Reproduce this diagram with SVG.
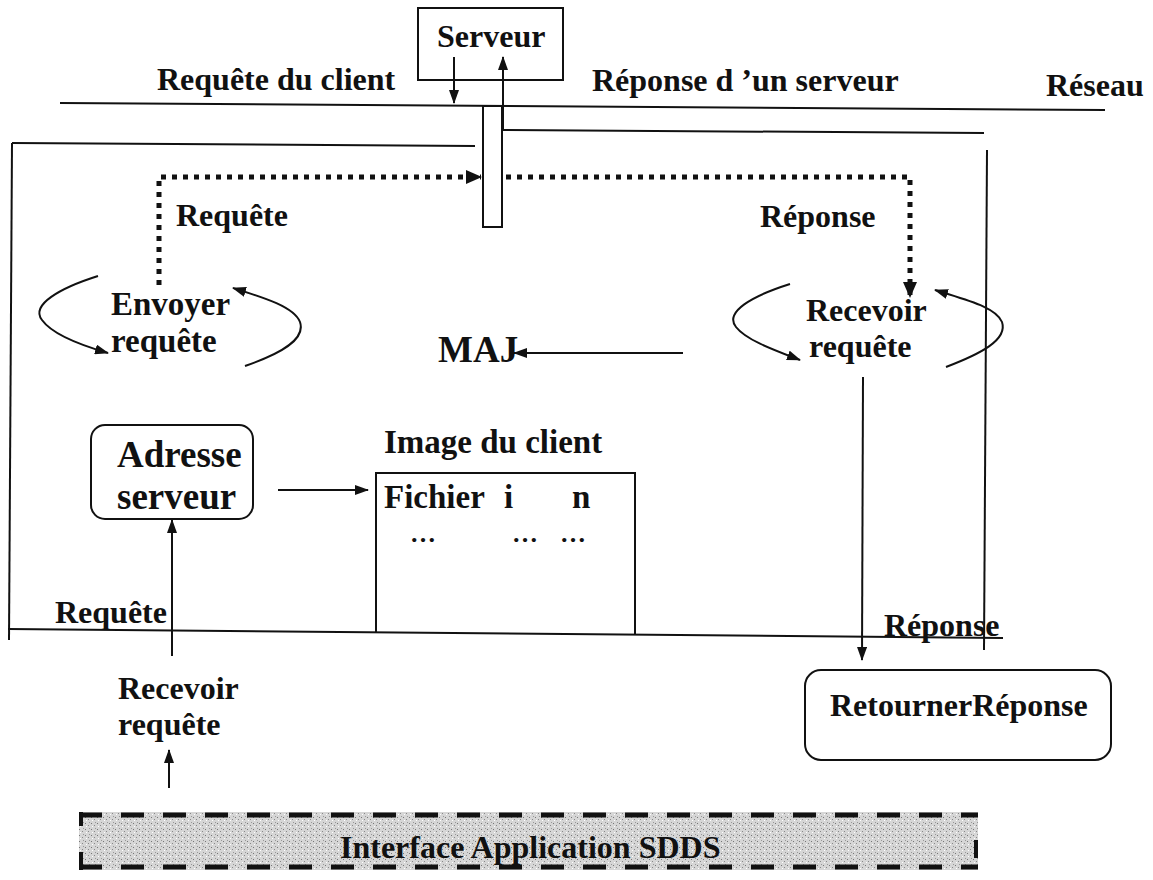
<svg xmlns="http://www.w3.org/2000/svg" width="1153" height="880" viewBox="0 0 1153 880">
<style>
text{font-family:"Liberation Serif","Times New Roman",serif;font-weight:bold;fill:#111;font-size:32px}
.ln{stroke:#111;stroke-width:2;fill:none}
.dot{stroke:#111;stroke-width:5;fill:none;stroke-dasharray:5 6}
.box{stroke:#111;stroke-width:2;fill:#fff}
.big{font-size:37px}
.img{font-size:33px}
.ell{font-size:26px}
.env{font-size:33px}
</style>
<defs>
<marker id="ah" viewBox="0 0 14 10" refX="13" refY="5" markerWidth="14" markerHeight="10" markerUnits="userSpaceOnUse" orient="auto"><path d="M0,0 L14,5 L0,10 Z" fill="#111"/></marker>
<marker id="ahb" viewBox="0 0 16 14" refX="15" refY="7" markerWidth="16" markerHeight="14" markerUnits="userSpaceOnUse" orient="auto"><path d="M0,0 L16,7 L0,14 Z" fill="#111"/></marker>
<pattern id="stip" width="6" height="6" patternUnits="userSpaceOnUse"><rect width="6" height="6" fill="#d6d6d6"/><rect x="1" y="1" width="1" height="1" fill="#777"/><rect x="4" y="3" width="1" height="1" fill="#888"/><rect x="2" y="4" width="1" height="1" fill="#fff"/><rect x="5" y="0" width="1" height="1" fill="#999"/></pattern>
</defs>

<g id="frame">
<line class="ln" x1="60" y1="103" x2="1105" y2="110"/>
<line class="ln" x1="12" y1="143" x2="475" y2="146"/>
<line class="ln" x1="12" y1="143" x2="9" y2="640"/>
<line class="ln" x1="8" y1="629" x2="1003" y2="638"/>
<line class="ln" x1="503" y1="130" x2="984" y2="133"/>
<line class="ln" x1="987" y1="150" x2="984" y2="650"/>
</g>

<g id="labels">
<text x="157" y="90">Requête du client</text>
<text x="592" y="91">Réponse d ’un serveur</text>
<text x="1046" y="96">Réseau</text>
<text x="176" y="226">Requête</text>
<text x="760" y="227">Réponse</text>
<text x="55" y="623">Requête</text>
<text x="884" y="636">Réponse</text>
<text x="118" y="699">Recevoir</text>
<text x="118" y="735">requête</text>
</g>

<g id="serveur">
<rect class="box" x="418" y="8" width="145" height="72"/>
<text x="437" y="47">Serveur</text>
</g>

<g id="passerelle">
<rect class="box" x="483" y="106" width="19" height="121"/>
</g>

<g id="envoyer">
<text class="env" x="111" y="315">Envoyer</text>
<text class="env" x="111" y="352">requête</text>
</g>

<g id="recevoir">
<text x="806" y="321">Recevoir</text>
<text x="809" y="357">requête</text>
</g>

<g id="maj">
<text x="438" y="362" style="font-size:37px">MAJ</text>
</g>

<g id="adresse">
<rect class="box" x="91" y="425" width="162" height="94" rx="14"/>
<text class="big" x="117" y="467">Adresse</text>
<text class="big" x="117" y="509">serveur</text>
</g>

<g id="image">
<text class="img" x="384" y="453">Image du client</text>
<path class="ln" d="M376,632 V473 H635 V634"/>
<text class="img" x="384" y="508">Fichier</text>
<text class="img" x="504" y="508">i</text>
<text class="img" x="572" y="508">n</text>
<text class="ell" x="410" y="542">…</text>
<text class="ell" x="512" y="542">…</text>
<text class="ell" x="560" y="542">…</text>
</g>

<g id="retourner">
<rect class="box" x="805" y="670" width="306" height="90" rx="16"/>
<text x="830" y="716">RetournerRéponse</text>
</g>

<g id="interface">
<rect x="79" y="812" width="899" height="58" fill="url(#stip)"/>
<line x1="79" y1="815" x2="978" y2="815" stroke="#111" stroke-width="5" stroke-dasharray="23 19"/>
<line x1="79" y1="867" x2="978" y2="867" stroke="#111" stroke-width="5" stroke-dasharray="23 19"/>
<line x1="81" y1="812" x2="81" y2="826" stroke="#111" stroke-width="4"/>
<line x1="81" y1="852" x2="81" y2="870" stroke="#111" stroke-width="4"/>
<line x1="976" y1="840" x2="976" y2="858" stroke="#111" stroke-width="4"/>
<text x="340" y="858">Interface Application SDDS</text>
</g>

<g id="connectors">
<line class="ln" x1="454" y1="57" x2="454" y2="103" marker-end="url(#ah)"/>
<line class="ln" x1="503" y1="130" x2="503" y2="57" marker-end="url(#ah)"/>
<path class="dot" d="M159,285 V177 H481" marker-end="url(#ahb)"/>
<path class="dot" d="M506,177 H910 V297" marker-end="url(#ahb)"/>
<path class="ln" d="M98,276 C60,288 30,305 42,320 C52,334 80,345 108,353" marker-end="url(#ah)"/>
<path class="ln" d="M245,366 C280,354 306,340 300,322 C294,307 265,298 233,288" marker-end="url(#ah)"/>
<path class="ln" d="M790,284 C752,296 724,312 736,327 C746,340 774,350 800,360" marker-end="url(#ah)"/>
<path class="ln" d="M946,367 C980,354 1008,340 1002,322 C996,307 966,300 935,290" marker-end="url(#ah)"/>
<line class="ln" x1="683" y1="353" x2="514" y2="353" marker-end="url(#ah)"/>
<line class="ln" x1="863" y1="377" x2="862" y2="660" marker-end="url(#ah)"/>
<line class="ln" x1="278" y1="490" x2="368" y2="490" marker-end="url(#ah)"/>
<line class="ln" x1="172" y1="656" x2="172" y2="520" marker-end="url(#ah)"/>
<line class="ln" x1="169" y1="788" x2="169" y2="750" marker-end="url(#ah)"/>
</g>
</svg>
